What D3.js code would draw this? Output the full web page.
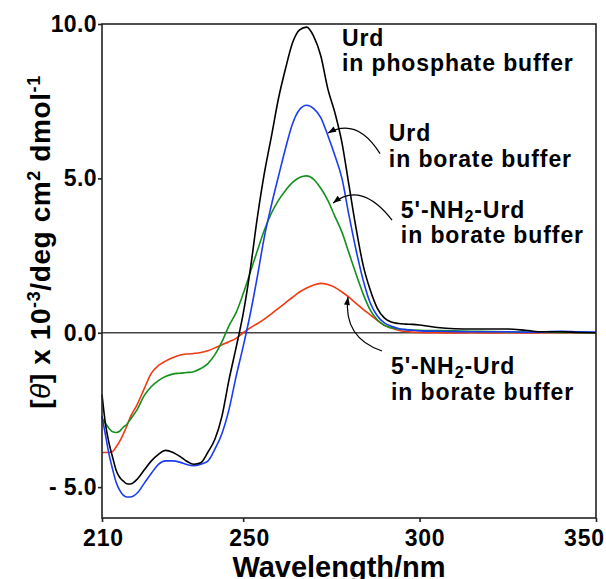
<!DOCTYPE html>
<html><head><meta charset="utf-8">
<script src="https://cdn.jsdelivr.net/npm/d3@7"></script>
<style>
body{margin:0;background:#fff}
svg{display:block}
text{font-family:"Liberation Sans",Arial,Helvetica,sans-serif;font-weight:bold;fill:#000}
</style>
</head><body>
<svg id="c" width="606" height="579"></svg>
<script>
// ---- data ----
const wavelengths = [210,211,212,213,214,215,216,217,218,220,222,224,226,228,230,232,234,236,238,240,242,244,246,248,250,252,254,256,258,260,262,264,266,268,270,272,274,276,278,280,282,284,286,288,290,292,294,296,298,300,305,310,315,320,325,330,335,340,345,350];
const urdPhosphate = [-2.0,-2.97,-3.58,-4.03,-4.45,-4.68,-4.8,-4.89,-4.9,-4.74,-4.44,-4.15,-3.94,-3.81,-3.87,-4.0,-4.16,-4.26,-4.21,-3.87,-3.45,-2.7,-1.52,-0.48,0.61,2.03,3.71,5.16,6.35,7.58,8.55,9.39,9.81,9.9,9.6,8.97,7.9,7.13,6.16,4.77,3.39,2.19,1.39,0.8,0.48,0.35,0.3,0.28,0.27,0.25,0.17,0.13,0.12,0.12,0.12,0.08,0.03,0.03,0.01,0.0];
const urdBorate = [-2.7,-3.32,-3.94,-4.42,-4.84,-5.1,-5.26,-5.32,-5.32,-5.19,-4.87,-4.55,-4.26,-4.15,-4.15,-4.19,-4.27,-4.31,-4.26,-4.16,-3.77,-3.26,-2.48,-1.42,-0.45,0.6,1.8,3.1,4.13,5.06,5.97,6.77,7.23,7.37,7.26,6.97,6.39,5.74,5.0,3.8,2.68,1.71,0.97,0.55,0.32,0.21,0.14,0.1,0.08,0.06,0.05,0.04,0.03,0.03,0.03,0.02,0.03,0.05,0.03,0.02];
const nh2UrdBorateA = [-2.77,-2.94,-3.1,-3.21,-3.23,-3.19,-3.06,-2.97,-2.81,-2.48,-2.03,-1.74,-1.55,-1.42,-1.34,-1.31,-1.29,-1.26,-1.16,-1.0,-0.71,-0.29,0.23,0.65,1.26,1.95,2.65,3.32,3.87,4.29,4.61,4.87,5.03,5.08,4.97,4.68,4.29,3.77,3.26,2.58,1.9,1.26,0.74,0.42,0.24,0.16,0.12,0.1,0.09,0.08,0.07,0.06,0.05,0.04,0.03,0.02,0.02,0.01,0.01,0.0];
const nh2UrdBorateB = [-3.88,-3.88,-3.88,-3.85,-3.7,-3.52,-3.29,-3.03,-2.74,-2.32,-1.8,-1.31,-1.06,-0.92,-0.81,-0.73,-0.69,-0.67,-0.64,-0.58,-0.49,-0.39,-0.29,-0.18,0.0,0.16,0.29,0.44,0.61,0.79,0.97,1.15,1.32,1.45,1.55,1.6,1.56,1.47,1.32,1.15,0.95,0.76,0.58,0.4,0.24,0.15,0.08,0.04,0.02,0.01,0.0,-0.01,0.0,-0.01,0.0,-0.01,0.0,0.0,0.0,0.0];
const seriesColors = ["#000000","#1c3cf0","#14901e","#f03a14"];
const xTicks = [210,250,300,350];
const yTicks = [10,5,0,-5];
const yTickLabels = ["10.0","5.0","0.0","- 5.0"];

// ---- layout ----
const svg = d3.select("#c");
const mLeft=102, mRight=596, mTop=24, mBottom=518;
const x = d3.scaleLinear().domain([210,350]).range([mLeft,mRight]);
const y = d3.scaleLinear().domain([-6,10]).range([mBottom,mTop]);

// zero line
svg.append("line").attr("x1",mLeft).attr("x2",mRight).attr("y1",y(0)).attr("y2",y(0))
  .attr("stroke","#444").attr("stroke-width",1.5);

// curves
const allSeries = [urdPhosphate, urdBorate, nh2UrdBorateA, nh2UrdBorateB];
const line = d3.line().x((d,i)=>x(wavelengths[i])).y(d=>y(d)).curve(d3.curveMonotoneX);
[3,2,1,0].forEach(k=>{
  svg.append("path").attr("d",line(allSeries[k])).attr("fill","none")
    .attr("stroke",seriesColors[k]).attr("stroke-width",1.6).attr("stroke-linejoin","round");
});

// frame
svg.append("rect").attr("x",mLeft).attr("y",mTop).attr("width",mRight-mLeft).attr("height",mBottom-mTop)
  .attr("fill","none").attr("stroke","#222").attr("stroke-width",1.6);

// axes
const xAxis = d3.axisBottom(x).tickValues(xTicks).tickSize(4).tickPadding(7.5).tickFormat(d3.format("d"));
const gx = svg.append("g").attr("transform",`translate(0,${mBottom})`).call(xAxis);
gx.select(".domain").remove();
gx.selectAll("line").attr("stroke","#222").attr("stroke-width",1.6);
gx.selectAll("text").style("font-size","23px").style("letter-spacing","0.8px").attr("fill","#000")
  .attr("dx",(d,i)=>[1,6,5,-12][i]);

const yAxis = d3.axisLeft(y).tickValues(yTicks).tickSize(4).tickPadding(1).tickFormat((d,i)=>yTickLabels[i]);
const gy = svg.append("g").attr("transform",`translate(${mLeft},0)`).call(yAxis);
gy.select(".domain").remove();
gy.selectAll("line").attr("stroke","#222").attr("stroke-width",1.6);
gy.selectAll("text").style("font-size","23px").style("letter-spacing","0.4px").attr("fill","#000");

// axis titles
svg.append("text").attr("x",(mLeft+mRight)/2 - 10).attr("y",577).attr("text-anchor","middle")
  .style("font-size","29px").text("Wavelength/nm");

const yl = svg.append("text").attr("transform","translate(50,242) rotate(-90)").attr("text-anchor","middle")
  .style("font-size","28px").style("letter-spacing","0.6px");
yl.append("tspan").text("[");
yl.append("tspan").style("font-style","italic").style("font-weight","normal").text("θ");
yl.append("tspan").text("] x 10");
yl.append("tspan").attr("dy",-10).style("font-size","18px").text("-3");
yl.append("tspan").attr("dy",10).text("/deg cm");
yl.append("tspan").attr("dy",-10).style("font-size","18px").text("2");
yl.append("tspan").attr("dy",10).text(" dmol");
yl.append("tspan").attr("dy",-10).style("font-size","18px").text("-1");

// annotations (positions in data units)
function label(wx, vy, lines){
  const t = svg.append("text").attr("x",x(wx)).attr("y",y(vy)).style("font-size","23px").style("letter-spacing","0.9px");
  lines.forEach((ln,i)=>{
    const ts = t.append("tspan").attr("x",x(wx)).attr("dy", i===0?0:25.5);
    if(ln==="NH2"){
      ts.text("5'-NH");
      t.append("tspan").attr("dy",4).style("font-size","16px").text("2");
      t.append("tspan").attr("dy",-4).text("-Urd");
    } else ts.text(ln);
  });
}
label(278.0, 9.29, ["Urd","in phosphate buffer"]);
label(291.3, 6.21, ["Urd","in borate buffer"]);
label(294.7, 3.72, ["NH2","in borate buffer"]);
label(291.9, -1.34, ["NH2","in borate buffer"]);

// arrows (quadratic curves in data units: start, control, tip)
const arrows = [
  [[288.8,5.80],[282.3,6.99],[274.05,6.47]],
  [[292.2,3.65],[283.5,4.93],[275.5,4.20]],
  [[289.35,-0.59],[278.3,-0.17],[279.7,1.16]]
];
arrows.forEach(([p0,c,p2])=>{
  const P0=[x(p0[0]),y(p0[1])], C=[x(c[0]),y(c[1])], P2=[x(p2[0]),y(p2[1])];
  const p = d3.path(); p.moveTo(P0[0],P0[1]); p.quadraticCurveTo(C[0],C[1],P2[0],P2[1]);
  svg.append("path").attr("d",p.toString()).attr("fill","none").attr("stroke","#000").attr("stroke-width",1.2);
  const ang = Math.atan2(P2[1]-C[1],P2[0]-C[0]);
  const L=8, W=3;
  const bx=P2[0]-L*Math.cos(ang), by=P2[1]-L*Math.sin(ang);
  const nx=-Math.sin(ang), ny=Math.cos(ang);
  svg.append("path").attr("d",`M${P2[0]},${P2[1]}L${bx+W*nx},${by+W*ny}L${bx-W*nx},${by-W*ny}Z`).attr("fill","#000");
});
</script>
</body></html>
